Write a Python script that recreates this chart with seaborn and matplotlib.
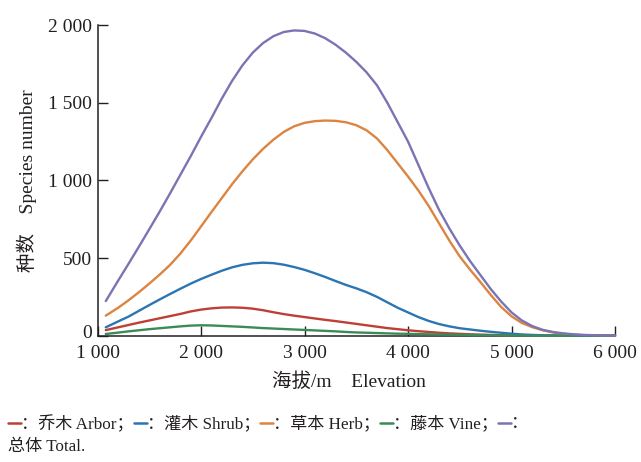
import matplotlib
matplotlib.use("Agg")
import matplotlib.pyplot as plt
from matplotlib.lines import Line2D
from matplotlib.transforms import ScaledTranslation
import seaborn as sns
import pandas as pd

# ---- data ----
elevation = [1080] + list(range(1200, 6001, 100))

total = [223, 355, 463, 573, 685, 798, 915, 1035, 1155, 1280,
         1400, 1525, 1640, 1740, 1822, 1884, 1928, 1955, 1965, 1962,
         1945, 1915, 1873, 1822, 1763, 1695, 1612, 1500, 1375, 1250,
         1100, 950, 810, 690, 580, 480, 390, 300, 220, 150,
         98, 62, 38, 24, 15, 9, 5, 3, 1, 0]
herb = [129, 180, 228, 280, 335, 393, 455, 528, 612, 703,
        795, 885, 975, 1058, 1135, 1203, 1262, 1312, 1348, 1370,
        1381, 1385, 1383, 1374, 1355, 1322, 1270, 1195, 1110, 1025,
        935, 835, 723, 612, 510, 425, 345, 262, 185, 125,
        82, 55, 35, 21, 12, 7, 3, 2, 1, 0]
shrub = [54, 92, 123, 160, 197, 233, 268, 302, 335, 365,
         392, 418, 440, 456, 466, 470, 467, 457, 442, 424,
         402, 378, 352, 327, 305, 280, 250, 215, 180, 150,
         120, 95, 75, 60, 48, 40, 32, 25, 19, 13,
         8, 5, 3, 2, 1, 0, 0, 0, 0, 0]
arbor = [36, 54, 69, 84, 98, 112, 126, 140, 156, 168,
         176, 181, 182, 180, 174, 164, 151, 139, 129, 120,
         111, 102, 94, 85, 76, 67, 58, 49, 42, 35,
         29, 24, 19, 15, 12, 9, 7, 5, 4, 3,
         2, 1, 0, 0, 0, 0, 0, 0, 0, 0]
vine = [11, 20, 28, 35, 42, 48, 54, 60, 65, 67,
        66, 63, 60, 57, 53, 49, 46, 43, 40, 37,
        34, 31, 28, 24, 21, 19, 17, 15, 13, 12,
        10, 9, 8, 7, 6, 4, 3, 3, 2, 1,
        1, 0, 0, 0, 0, 0, 0, 0, 0, 0]

series_names = ["乔木 Arbor", "灌木 Shrub", "草本 Herb", "藤本 Vine", "总体 Total"]
series_values = [arbor, shrub, herb, vine, total]
series_colors = ["#bd4036", "#2b75b3", "#dc8440", "#3b8b58", "#7a74b3"]

x_ticks = [1000, 2000, 3000, 4000, 5000, 6000]
x_ticklabels = ["1 000", "2 000", "3 000", "4 000", "5 000", "6 000"]
y_ticks = [0, 500, 1000, 1500, 2000]
y_ticklabels = ["0", "500", "1 000", "1 500", "2 000"]

# ---- style ----
sns.set_style("ticks")
plt.rcParams["font.family"] = ["Liberation Serif", "Noto Sans CJK SC", "DejaVu Sans"]
plt.rcParams["axes.unicode_minus"] = False
ink = "#231f20"

W, H = 641, 462
fig = plt.figure(figsize=(W / 100, H / 100), dpi=100)
ax = fig.add_axes([97.5 / W, 1 - 335.7 / H, (615 - 97.5) / W, (335.7 - 25) / H])

df = pd.DataFrame({"elev": elevation})
for name, vals, col in zip(series_names, series_values, series_colors):
    df[name] = vals
    sns.lineplot(data=df, x="elev", y=name, color=col, lw=1.7, ax=ax, clip_on=False,
                 zorder=3)

ax.set_xlim(1000, 6000)
ax.set_ylim(0, 2000)
ax.set_xticks(x_ticks)
ax.set_xticklabels(x_ticklabels)
ax.set_yticks(y_ticks)
ax.set_yticklabels(y_ticklabels)
ax.tick_params(direction="in", length=7, width=1.0, color=ink, labelsize=14,
               labelcolor=ink)
ax.tick_params(axis="x", pad=7)
ax.tick_params(axis="y", pad=4)
for s in ["top", "right"]:
    ax.spines[s].set_visible(False)
for s in ["left", "bottom"]:
    ax.spines[s].set_linewidth(1.1)
    ax.spines[s].set_color(ink)

ax.set_xlabel("海拔/m    Elevation", fontsize=14, color=ink, labelpad=2)
ax.set_ylabel("种数    Species number", fontsize=14, color=ink, labelpad=8)
ax.xaxis.set_label_coords(0.486, -0.118)

# ---- inline legend below the plot ----
fig.canvas.draw()
renderer = fig.canvas.get_renderer()
fs = 12.3
y1 = (H - 424) / H
y2 = (H - 447) / H
xpos = 8.0
dash_len = 13.0
for i, (name, col) in enumerate(zip(series_names, series_colors)):
    fig.add_artist(Line2D([xpos / W, (xpos + dash_len) / W], [y1 + 1.0 / H, y1 + 1.0 / H],
                          transform=fig.transFigure, color=col, lw=1.8))
    xpos += dash_len
    s = "：" + name + "；" if i < 4 else "："
    t = fig.text(xpos / W, y1, s, fontsize=fs, color=ink, ha="left", va="center")
    xpos += t.get_window_extent(renderer=renderer).width
fig.text(8 / W, y2, series_names[4] + ".", fontsize=fs, color=ink, ha="left", va="center")

# the "0" label sits slightly above the x axis in the reference
zero_lab = ax.yaxis.get_major_ticks()[0].label1
zero_lab.set_transform(zero_lab.get_transform() +
                       ScaledTranslation(0, 4 / 100, fig.dpi_scale_trans))

fig.savefig("out.png", dpi=100, facecolor="white")
